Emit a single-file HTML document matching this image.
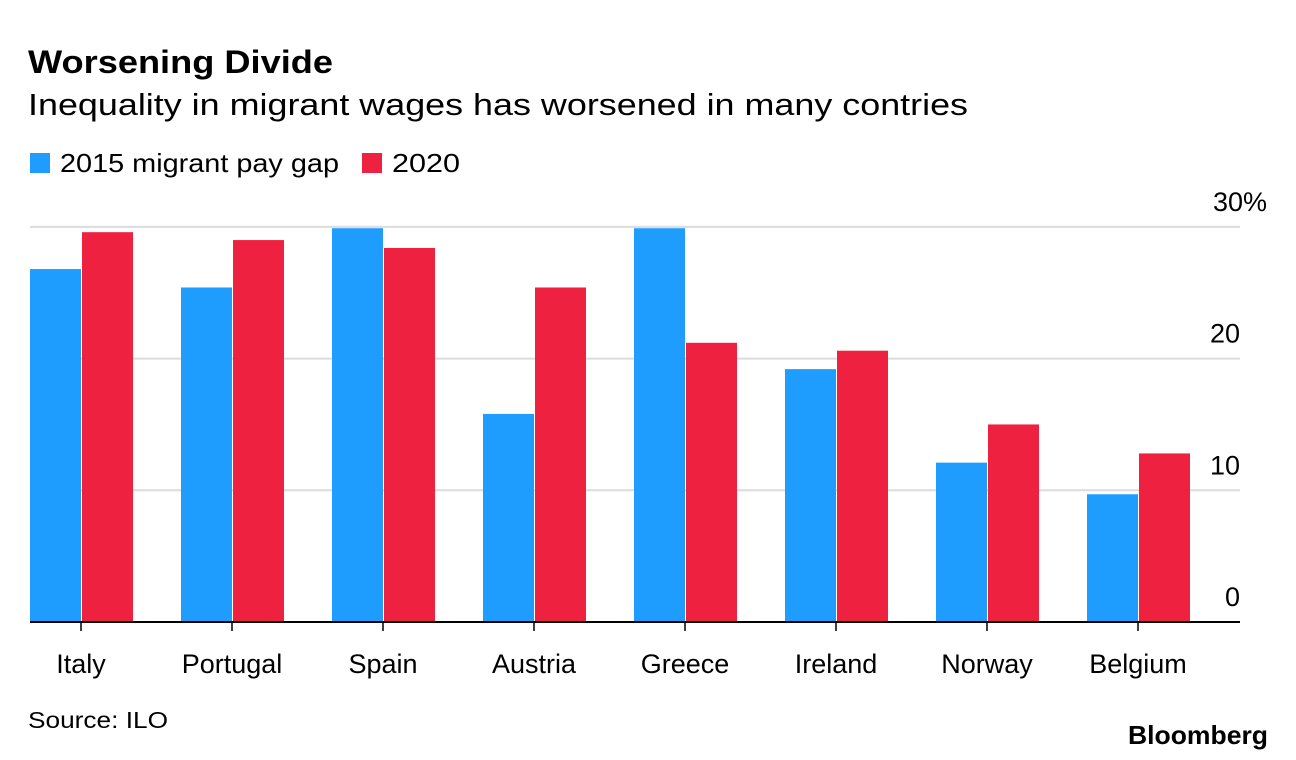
<!DOCTYPE html>
<html><head><meta charset="utf-8"><style>
body{margin:0;background:#fff;font-family:"Liberation Sans",sans-serif;}
svg{display:block}
</style></head><body>
<svg id="chart" width="1296" height="760">
<text x="28" y="73" font-size="32" font-weight="bold" fill="#000" textLength="305" lengthAdjust="spacingAndGlyphs">Worsening Divide</text>
<text x="28" y="115" font-size="31" fill="#000" textLength="940" lengthAdjust="spacingAndGlyphs">Inequality in migrant wages has worsened in many contries</text>
<g>
<rect x="30" y="153" width="20" height="20" fill="#1E9DFF"/>
<text x="60" y="172" font-size="26" textLength="279" lengthAdjust="spacingAndGlyphs">2015 migrant pay gap</text>
<rect x="362" y="153" width="20" height="20" fill="#EE2240"/>
<text x="392" y="172" font-size="26" textLength="68" lengthAdjust="spacingAndGlyphs">2020</text>
</g>
<g id="grid"></g><g id="bars"></g><g id="xaxis"></g>
<text x="28" y="728" font-size="23" textLength="140" lengthAdjust="spacingAndGlyphs">Source: ILO</text>
<text x="1128" y="744" font-size="26" font-weight="bold" textLength="140" lengthAdjust="spacingAndGlyphs">Bloomberg</text>
</svg>
<script>
const categories=["Italy","Portugal","Spain","Austria","Greece","Ireland","Norway","Belgium"];
const values2015=[26.8,25.4,29.9,15.8,29.9,19.2,12.1,9.7];
const values2020=[29.6,29.0,28.4,25.4,21.2,20.6,15.0,12.8];
const yTicks=[0,10,20,30];
const yTickLabels=["0","10","20","30%"];
const NS="http://www.w3.org/2000/svg";
const y=v=>622-v*13.17;
const x=i=>81+i*151;
const bw=51;
function mk(t,a,p){const e=document.createElementNS(NS,t);for(const k in a)e.setAttribute(k,a[k]);p.appendChild(e);return e;}
const grid=document.getElementById('grid'),bars=document.getElementById('bars'),xa=document.getElementById('xaxis');
yTicks.forEach((t,i)=>{
 if(t>0){const l=mk('line',{x1:30,x2:1240,y1:y(t),y2:y(t),stroke:'#dcdcdc','stroke-width':2},grid);
 
 }
 const isPct=yTickLabels[i].indexOf('%')>=0;
 const tx=mk('text',{x:isPct?1267:1240,y:y(t)-16,'font-size':27,'text-anchor':'end'},grid);
 tx.textContent=yTickLabels[i];
 
 
});
categories.forEach((c,i)=>{
 const b1=mk('rect',{x:x(i)-bw,y:y(values2015[i]),width:bw,height:y(0)-y(values2015[i]),fill:'#1E9DFF'},bars);
 
 
 const b2=mk('rect',{x:x(i)+1,y:y(values2020[i]),width:bw,height:y(0)-y(values2020[i]),fill:'#EE2240'},bars);
 
 
 const tk=mk('line',{x1:x(i),x2:x(i),y1:622,y2:631,stroke:'#000','stroke-width':1.5},xa);
 
 
 const lb=mk('text',{x:x(i),y:673,'font-size':27,'text-anchor':'middle'},xa);
 lb.textContent=c;
 
 
});
const ax=mk('line',{x1:30,x2:1240,y1:622,y2:622,stroke:'#000','stroke-width':2},xa);


</script>
</body></html>
